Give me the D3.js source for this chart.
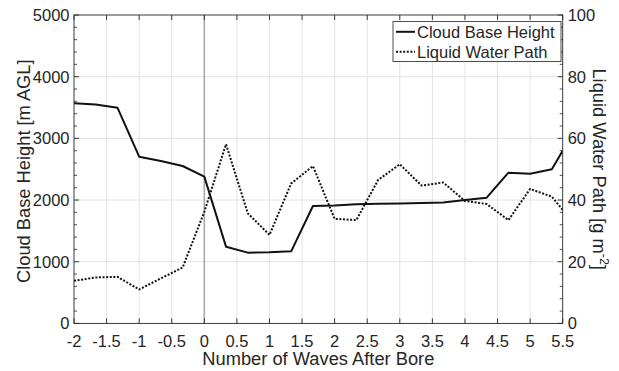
<!DOCTYPE html>
<html>
<head>
<meta charset="utf-8">
<script src="https://cdn.jsdelivr.net/npm/d3@7"></script>
<style>
  html, body { margin: 0; padding: 0; background: #fff; }
  svg { display: block; font-family: "Liberation Sans", Arial, Helvetica, sans-serif; }
</style>
</head>
<body>
<svg id="chart" width="619" height="371"></svg>
<script>
// Sample positions, in waves after the bore passage
const wavesAfterBore = [-2, -1.667, -1.333, -1, -0.667, -0.333, 0, 0.333, 0.667, 1, 1.333, 1.667,
                        2, 2.333, 2.667, 3, 3.333, 3.667, 4, 4.333, 4.667, 5, 5.333, 5.5];
// Cloud base height, m AGL (left axis)
const cloudBaseHeight = [3568, 3550, 3497, 2703, 2633, 2552, 2379, 1244, 1147, 1152, 1168, 1903,
                         1912, 1930, 1940, 1945, 1950, 1962, 2000, 2038, 2443, 2427, 2498, 2800];
// Liquid water path, g m^-2 (right axis)
const liquidWaterPath = [13.8, 14.9, 15.1, 11.0, 14.6, 18.1, 36.2, 58.1, 35.7, 28.7, 45.4, 51.0,
                         33.9, 33.5, 46.5, 51.6, 44.7, 45.7, 39.7, 38.7, 33.5, 43.6, 41.1, 36.8];

const xTicks = [-2, -1.5, -1, -0.5, 0, 0.5, 1, 1.5, 2, 2.5, 3, 3.5, 4, 4.5, 5, 5.5];
const leftTicks = [0, 1000, 2000, 3000, 4000, 5000];
const rightTicks = [0, 20, 40, 60, 80, 100];
const legendLabels = ["Cloud Base Height", "Liquid Water Path"];

const axisColor = "#262626";
const gridColor = "#e3e3e3";
const tickFont = 16.5;
const labelFont = 18.3;

const plot = { left: 74, right: 562.7, top: 15, bottom: 323.4 };

const svg = d3.select("#chart");

const x = d3.scaleLinear().domain([-2, 5.5]).range([plot.left, plot.right]);
const yL = d3.scaleLinear().domain([0, 5000]).range([plot.bottom, plot.top]);
const yR = d3.scaleLinear().domain([0, 100]).range([plot.bottom, plot.top]);

// Grid
const grid = svg.append("g").attr("stroke", gridColor).attr("stroke-width", 1);
grid.selectAll("line.v").data(xTicks.slice(1, -1)).join("line")
  .attr("x1", d => x(d)).attr("x2", d => x(d))
  .attr("y1", plot.top).attr("y2", plot.bottom);
grid.selectAll("line.h").data(leftTicks.slice(1, -1)).join("line")
  .attr("y1", d => yL(d)).attr("y2", d => yL(d))
  .attr("x1", plot.left).attr("x2", plot.right);

// Bore reference line at zero
svg.append("line")
  .attr("x1", x(0)).attr("x2", x(0))
  .attr("y1", plot.top).attr("y2", plot.bottom)
  .attr("stroke", "#a6a6a6").attr("stroke-width", 1.5);

// Clip to the axes box
svg.append("clipPath").attr("id", "plotClip").append("rect")
  .attr("x", plot.left).attr("y", plot.top)
  .attr("width", plot.right - plot.left).attr("height", plot.bottom - plot.top);

const rows = wavesAfterBore.map((w, i) => ({ w, cbh: cloudBaseHeight[i], lwp: liquidWaterPath[i] }));

const cbhLine = d3.line().x(d => x(d.w)).y(d => yL(d.cbh));
const lwpLine = d3.line().x(d => x(d.w)).y(d => yR(d.lwp));

const lines = svg.append("g").attr("clip-path", "url(#plotClip)");
lines.append("path").datum(rows).attr("d", lwpLine)
  .attr("fill", "none").attr("stroke", "#111").attr("stroke-width", 2)
  .attr("stroke-dasharray", "2,1.6");
lines.append("path").datum(rows).attr("d", cbhLine)
  .attr("fill", "none").attr("stroke", "#111").attr("stroke-width", 2)
  .attr("stroke-linejoin", "round");

// Axes box
const axes = svg.append("g").attr("stroke", axisColor).attr("fill", "none");
axes.append("rect")
  .attr("x", plot.left).attr("y", plot.top)
  .attr("width", plot.right - plot.left).attr("height", plot.bottom - plot.top)
  .attr("stroke-width", 0.9);

const majorLen = 5, minorLen = 3;

// x ticks (bottom and top, pointing inward)
xTicks.forEach(t => {
  axes.append("line").attr("x1", x(t)).attr("x2", x(t))
    .attr("y1", plot.bottom).attr("y2", plot.bottom - majorLen).attr("stroke-width", 0.9);
  axes.append("line").attr("x1", x(t)).attr("x2", x(t))
    .attr("y1", plot.top).attr("y2", plot.top + majorLen).attr("stroke-width", 0.9);
});

// Left y ticks (major + minor)
const leftMinor = d3.range(0, 5001, 200).filter(v => v % 1000 !== 0);
leftTicks.forEach(t => {
  axes.append("line").attr("x1", plot.left).attr("x2", plot.left + majorLen)
    .attr("y1", yL(t)).attr("y2", yL(t)).attr("stroke-width", 0.9);
});
leftMinor.forEach(t => {
  axes.append("line").attr("x1", plot.left).attr("x2", plot.left + minorLen)
    .attr("y1", yL(t)).attr("y2", yL(t)).attr("stroke-width", 0.8);
});

// Right y ticks (major + minor)
const rightMinor = d3.range(0, 101, 4).filter(v => v % 20 !== 0);
rightTicks.forEach(t => {
  axes.append("line").attr("x1", plot.right).attr("x2", plot.right - majorLen)
    .attr("y1", yR(t)).attr("y2", yR(t)).attr("stroke-width", 0.9);
});
rightMinor.forEach(t => {
  axes.append("line").attr("x1", plot.right).attr("x2", plot.right - minorLen)
    .attr("y1", yR(t)).attr("y2", yR(t)).attr("stroke-width", 0.8);
});

// Tick labels (plain hyphen for negatives)
const txt = svg.append("g").attr("fill", axisColor).attr("font-size", tickFont);
txt.selectAll("text.xt").data(xTicks).join("text")
  .attr("x", d => x(d)).attr("y", 346.5).attr("text-anchor", "middle")
  .text(d => String(d));
txt.selectAll("text.yl").data(leftTicks).join("text")
  .attr("x", plot.left - 4.5).attr("y", d => yL(d)).attr("dy", "0.36em")
  .attr("text-anchor", "end").text(d => String(d));
txt.selectAll("text.yr").data(rightTicks).join("text")
  .attr("x", plot.right + 5).attr("y", d => yR(d)).attr("dy", "0.36em")
  .attr("text-anchor", "start").text(d => String(d));

// Axis titles
svg.append("text")
  .attr("x", (plot.left + plot.right) / 2).attr("y", 365)
  .attr("text-anchor", "middle").attr("font-size", labelFont).attr("fill", axisColor)
  .text("Number of Waves After Bore");

svg.append("text")
  .attr("transform", `translate(30,${(plot.top + plot.bottom) / 2 + 2}) rotate(-90)`)
  .attr("text-anchor", "middle").attr("font-size", labelFont).attr("fill", axisColor)
  .text("Cloud Base Height [m AGL]");

const rLabel = svg.append("text")
  .attr("transform", `translate(593,${(plot.top + plot.bottom) / 2}) rotate(90)`)
  .attr("text-anchor", "middle").attr("font-size", labelFont).attr("fill", axisColor);
rLabel.append("tspan").text("Liquid Water Path [g m");
rLabel.append("tspan").attr("dy", -7).attr("font-size", 12.5).text("-2");
rLabel.append("tspan").attr("dy", 7).text("]");

// Legend
const lg = svg.append("g");
lg.append("rect")
  .attr("x", 393).attr("y", 21.5).attr("width", 168).attr("height", 40)
  .attr("fill", "#fff").attr("stroke", "#3a3a3a").attr("stroke-width", 0.9);
legendLabels.forEach((label, i) => {
  const cy = 31.8 + i * 20;
  lg.append("line").attr("x1", 396).attr("x2", 415).attr("y1", cy).attr("y2", cy)
    .attr("stroke", "#111").attr("stroke-width", 2)
    .attr("stroke-dasharray", i === 1 ? "2,1.6" : null);
  lg.append("text").attr("x", 417).attr("y", cy).attr("dy", "0.36em")
    .attr("font-size", tickFont).attr("fill", axisColor).text(label);
});
</script>
</body>
</html>
